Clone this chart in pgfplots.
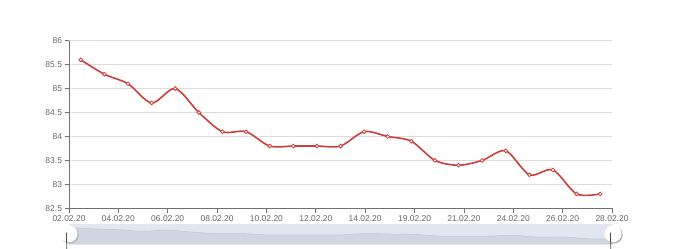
\documentclass[border=0pt]{standalone}
\usepackage{fontspec}
\setmainfont{Liberation Sans}
\usepackage{pgfplots}
\pgfplotsset{compat=1.18}
\definecolor{lred}{HTML}{CB3F3C}
\definecolor{axgray}{HTML}{6E7079}
\definecolor{lblgray}{HTML}{666666}
\definecolor{gridgray}{HTML}{DCDCDC}
\definecolor{slbg}{HTML}{E2E7EF}
\definecolor{slarea}{HTML}{D0D7E2}
\definecolor{slline}{HTML}{C3CBD8}
\begin{document}
\begin{tikzpicture}
\path[use as bounding box] (0,0) rectangle (680bp,249bp);
\begin{axis}[
  at={(69bp,40.7bp)}, anchor=south west,
  scale only axis, width=543bp, height=167.6bp,
  xmin=-0.5, xmax=22.5, ymin=82.5, ymax=86,
  ytick={82.5,83,83.5,84,84.5,85,85.5,86},
  yticklabels={82.5,83,83.5,84,84.5,85,85.5,86},
  xtick={-0.5,1.5909,3.6818,5.7727,7.8636,9.9545,12.0455,14.1364,16.2273,18.3182,20.4091,22.5},
  xticklabels={02.02.20,04.02.20,06.02.20,08.02.20,10.02.20,12.02.20,14.02.20,19.02.20,21.02.20,24.02.20,26.02.20,28.02.20},
  axis x line*=bottom, axis y line*=left,
  axis line style={draw=axgray, line width=0.8bp},
  x axis line style={-}, y axis line style={-},
  tick style={draw=axgray, line width=0.8bp},
  tick align=outside,
  major tick length=4.5bp,
  ymajorgrids, grid style={draw=gridgray, line width=0.8bp},
  tick label style={font=\fontsize{8.5}{10}\selectfont, text=lblgray},
  xticklabel style={yshift=1bp},
  yticklabel style={xshift=1bp},
  /pgf/number format/assume math mode=true,
  clip=false,
]
\addplot[lred, line width=1.6bp, smooth, tension=0.5,
  mark=*, mark size=1.9bp, mark options={fill=white, draw=lred, line width=0.8bp}]
coordinates {
(0,85.6)(1,85.3)(2,85.1)(3,84.7)(4,85.0)(5,84.5)(6,84.1)(7,84.1)(8,83.8)(9,83.8)(10,83.8)(11,83.8)
(12,84.1)(13,84.0)(14,83.9)(15,83.5)(16,83.4)(17,83.5)(18,83.7)(19,83.2)(20,83.3)(21,82.8)(22,82.8)
};
\end{axis}
\begin{axis}[
  at={(69bp,5bp)}, anchor=south west,
  scale only axis, width=544bp, height=20.3bp,
  xmin=0, xmax=22, ymin=81.5, ymax=86.6,
  hide axis,
  axis background/.style={fill=slbg},
  clip=false,
]
\addplot[fill=slarea, draw=slline, line width=0.6bp, smooth, tension=0.5] coordinates {
(0,85.6)(1,85.3)(2,85.1)(3,84.7)(4,85.0)(5,84.5)(6,84.1)(7,84.1)(8,83.8)(9,83.8)(10,83.8)(11,83.8)
(12,84.1)(13,84.0)(14,83.9)(15,83.5)(16,83.4)(17,83.5)(18,83.7)(19,83.2)(20,83.3)(21,82.8)(22,82.8)
} \closedcycle;
\fill[black!30] (axis cs:0,84.05) ++(1bp,-1bp) circle[radius=8.7bp];
\fill[white] (axis cs:0,84.05) circle[radius=8.5bp];
\draw[black!70, line width=0.8bp] (axis cs:0,84.05) ++(-2.5bp,1.3bp) -- ++(5bp,0) ++(-5bp,-2.6bp) -- ++(5bp,0);
\fill[black!30] (axis cs:22,84.05) ++(1bp,-1bp) circle[radius=8.7bp];
\fill[white] (axis cs:22,84.05) circle[radius=8.5bp];
\draw[black!70, line width=0.8bp] (axis cs:22,84.05) ++(-2.5bp,1.3bp) -- ++(5bp,0) ++(-5bp,-2.6bp) -- ++(5bp,0);
\end{axis}
\end{tikzpicture}
\end{document}
